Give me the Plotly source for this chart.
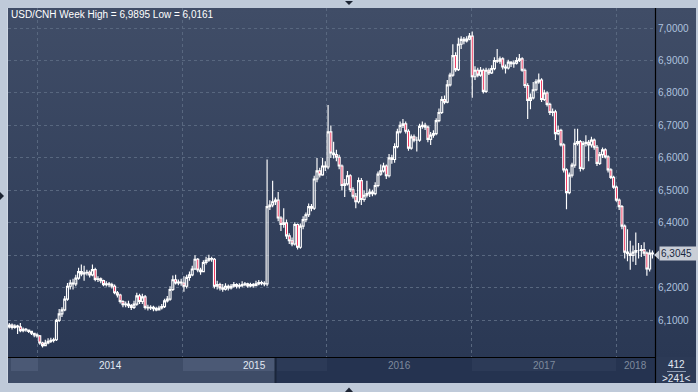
import base64
import plotly.graph_objects as go
import pandas as pd

# ---------------- data (weekly USD/CNH candles) ----------------
start_date = "2013-10-21"
first_open = 6.080

close = [
    6.085, 6.078, 6.082, 6.080, 6.068, 6.072, 6.070, 6.066, 6.060, 6.055,
    6.052, 6.030, 6.022, 6.030, 6.035, 6.038, 6.040, 6.100, 6.120, 6.132,
    6.165, 6.205, 6.215, 6.212, 6.230, 6.250, 6.243, 6.246, 6.248, 6.240,
    6.256, 6.226, 6.228, 6.222, 6.210, 6.212, 6.210, 6.205, 6.185, 6.178,
    6.158, 6.148, 6.150, 6.145, 6.140, 6.150, 6.175, 6.158, 6.172, 6.140,
    6.138, 6.140, 6.136, 6.132, 6.138, 6.142, 6.160, 6.165, 6.195, 6.225,
    6.215, 6.218, 6.215, 6.205, 6.232, 6.240, 6.258, 6.288, 6.255, 6.250,
    6.278, 6.285, 6.290, 6.288, 6.205, 6.210, 6.200, 6.196, 6.205, 6.200,
    6.205, 6.210, 6.205, 6.207, 6.210, 6.212, 6.206, 6.210, 6.207, 6.212,
    6.216, 6.214, 6.212, 6.450, 6.455, 6.465, 6.470, 6.415, 6.395, 6.400,
    6.360, 6.345, 6.335, 6.395, 6.325, 6.390, 6.410, 6.425, 6.450, 6.445,
    6.535, 6.560, 6.548, 6.575, 6.572, 6.680, 6.615, 6.610, 6.602, 6.575,
    6.515, 6.520, 6.545, 6.502, 6.482, 6.465, 6.530, 6.472, 6.485, 6.490,
    6.495, 6.490, 6.515, 6.550, 6.560, 6.575, 6.545, 6.600, 6.595, 6.635,
    6.680, 6.700, 6.705, 6.682, 6.630, 6.665, 6.655, 6.655, 6.697, 6.700,
    6.695, 6.657, 6.670, 6.675, 6.715, 6.740, 6.780, 6.772, 6.825, 6.855,
    6.915, 6.872, 6.950, 6.965, 6.960, 6.966, 6.975, 6.850, 6.870, 6.855,
    6.870, 6.805, 6.870, 6.862, 6.875, 6.900, 6.898, 6.905, 6.880, 6.877,
    6.895, 6.890, 6.892, 6.900, 6.905, 6.870, 6.823, 6.777, 6.785, 6.810,
    6.834, 6.840, 6.780, 6.800, 6.765, 6.740, 6.742, 6.675, 6.685, 6.640,
    6.563, 6.493, 6.547, 6.578, 6.645, 6.650, 6.568, 6.645, 6.648, 6.640,
    6.655, 6.633, 6.583, 6.610, 6.625, 6.603, 6.563, 6.540, 6.510, 6.470,
    6.450, 6.390, 6.310, 6.305, 6.300, 6.310, 6.315, 6.315, 6.318, 6.307,
    6.258, 6.307, 6.3045,
]

high = [
    6.092, 6.090, 6.088, 6.086, 6.092, 6.078, 6.076, 6.072, 6.068, 6.062,
    6.060, 6.055, 6.034, 6.040, 6.045, 6.046, 6.046, 6.105, 6.135, 6.140,
    6.175, 6.215, 6.225, 6.228, 6.240, 6.262, 6.272, 6.268, 6.256, 6.253,
    6.272, 6.262, 6.236, 6.232, 6.225, 6.220, 6.218, 6.216, 6.210, 6.190,
    6.182, 6.162, 6.158, 6.160, 6.150, 6.160, 6.185, 6.182, 6.182, 6.178,
    6.148, 6.146, 6.145, 6.142, 6.145, 6.150, 6.166, 6.175, 6.205, 6.238,
    6.240, 6.226, 6.228, 6.236, 6.240, 6.250, 6.268, 6.300, 6.292, 6.262,
    6.285, 6.296, 6.302, 6.296, 6.292, 6.222, 6.216, 6.212, 6.214, 6.210,
    6.212, 6.218, 6.214, 6.214, 6.220, 6.218, 6.216, 6.216, 6.215, 6.222,
    6.224, 6.222, 6.220, 6.595, 6.470, 6.530, 6.478, 6.495, 6.420, 6.445,
    6.410, 6.368, 6.355, 6.402, 6.398, 6.398, 6.420, 6.432, 6.460, 6.458,
    6.545, 6.600, 6.570, 6.600, 6.590, 6.763, 6.700, 6.650, 6.625, 6.610,
    6.580, 6.535, 6.560, 6.550, 6.510, 6.492, 6.540, 6.538, 6.500, 6.530,
    6.505, 6.502, 6.525, 6.558, 6.580, 6.585, 6.580, 6.612, 6.610, 6.645,
    6.690, 6.712, 6.720, 6.712, 6.688, 6.672, 6.672, 6.665, 6.705, 6.712,
    6.708, 6.700, 6.680, 6.685, 6.722, 6.752, 6.790, 6.792, 6.840, 6.862,
    6.950, 6.925, 6.970, 6.975, 6.972, 6.975, 6.985, 6.9895, 6.882, 6.878,
    6.880, 6.875, 6.878, 6.876, 6.885, 6.910, 6.935, 6.912, 6.910, 6.888,
    6.902, 6.898, 6.900, 6.910, 6.920, 6.910, 6.875, 6.830, 6.798, 6.834,
    6.842, 6.860, 6.845, 6.810, 6.805, 6.770, 6.752, 6.748, 6.700, 6.690,
    6.645, 6.568, 6.555, 6.585, 6.690, 6.690, 6.655, 6.652, 6.670, 6.655,
    6.665, 6.660, 6.640, 6.618, 6.632, 6.630, 6.608, 6.568, 6.545, 6.515,
    6.475, 6.455, 6.395, 6.380, 6.345, 6.330, 6.370, 6.338, 6.332, 6.340,
    6.312, 6.318, 6.315,
]

low = [
    6.075, 6.072, 6.074, 6.058, 6.063, 6.063, 6.065, 6.061, 6.055, 6.048,
    6.046, 6.025, 6.0161, 6.020, 6.026, 6.030, 6.032, 6.036, 6.095, 6.110,
    6.128, 6.160, 6.195, 6.195, 6.205, 6.225, 6.236, 6.222, 6.238, 6.232,
    6.236, 6.220, 6.218, 6.214, 6.205, 6.204, 6.202, 6.198, 6.180, 6.170,
    6.152, 6.140, 6.140, 6.138, 6.132, 6.135, 6.145, 6.150, 6.150, 6.133,
    6.130, 6.132, 6.128, 6.128, 6.130, 6.133, 6.138, 6.155, 6.160, 6.190,
    6.210, 6.208, 6.206, 6.188, 6.198, 6.222, 6.236, 6.255, 6.248, 6.240,
    6.248, 6.272, 6.280, 6.280, 6.198, 6.195, 6.192, 6.188, 6.192, 6.192,
    6.195, 6.200, 6.198, 6.198, 6.202, 6.205, 6.200, 6.202, 6.200, 6.205,
    6.208, 6.208, 6.205, 6.205, 6.440, 6.448, 6.455, 6.405, 6.375, 6.385,
    6.350, 6.335, 6.328, 6.330, 6.318, 6.320, 6.380, 6.402, 6.418, 6.436,
    6.440, 6.525, 6.540, 6.545, 6.560, 6.565, 6.600, 6.598, 6.590, 6.565,
    6.500, 6.480, 6.515, 6.495, 6.475, 6.445, 6.460, 6.455, 6.465, 6.478,
    6.480, 6.482, 6.485, 6.510, 6.545, 6.555, 6.535, 6.540, 6.582, 6.585,
    6.630, 6.675, 6.692, 6.675, 6.622, 6.625, 6.648, 6.620, 6.650, 6.690,
    6.686, 6.648, 6.640, 6.662, 6.670, 6.710, 6.735, 6.765, 6.768, 6.820,
    6.850, 6.865, 6.868, 6.935, 6.950, 6.955, 6.962, 6.785, 6.840, 6.848,
    6.850, 6.798, 6.800, 6.855, 6.858, 6.870, 6.892, 6.890, 6.872, 6.860,
    6.872, 6.880, 6.878, 6.888, 6.895, 6.865, 6.815, 6.720, 6.750, 6.780,
    6.805, 6.828, 6.772, 6.775, 6.758, 6.732, 6.728, 6.655, 6.670, 6.635,
    6.555, 6.442, 6.488, 6.540, 6.570, 6.638, 6.558, 6.562, 6.635, 6.590,
    6.632, 6.625, 6.575, 6.578, 6.600, 6.598, 6.555, 6.535, 6.505, 6.465,
    6.440, 6.380, 6.290, 6.282, 6.256, 6.280, 6.270, 6.290, 6.295, 6.298,
    6.237, 6.250, 6.290,
]

open_ = [first_open] + close[:-1]
dates = pd.date_range(start_date, periods=len(close), freq="7D")

y_ticks = [6.1, 6.2, 6.3, 6.4, 6.5, 6.6, 6.7, 6.8, 6.9, 7.0]
year_labels = ["2014", "2015", "2016", "2017", "2018"]
x_range = ["2013-10-17 19:00", "2018-04-08 12:00"]
y_range = [5.987, 7.0616]
pair = "USD/CNH"
bar_total = "412"
bar_visible = ">241<"

# ---------------- layout geometry (pixels) ----------------
W, H = 698, 392
PL, PR, PT, PB = 8, 655, 8, 357
FONT = "Liberation Sans"
FS = 10


def xp(px):
    return (px - PL) / (PR - PL)


def yp(py):
    return (PB - py) / (PB - PT)


def fmt(v):
    return f"{v:.4f}".replace(".", ",")


shapes = []


def rect(x0, y0, x1, y1, color, layer="below"):
    shapes.append(dict(type="rect", xref="paper", yref="paper",
                       x0=xp(x0), x1=xp(x1), y0=yp(y1), y1=yp(y0),
                       fillcolor=color, line=dict(width=0), layer=layer))


def line(x0, y0, x1, y1, color, width=1, layer="above"):
    shapes.append(dict(type="line", xref="paper", yref="paper",
                       x0=xp(x0), x1=xp(x1), y0=yp(y0), y1=yp(y1),
                       line=dict(color=color, width=width), layer=layer))


def tri(pts, color, layer="above"):
    path = "M " + " L ".join(f"{xp(a)},{yp(b)}" for a, b in pts) + " Z"
    shapes.append(dict(type="path", xref="paper", yref="paper", path=path,
                       fillcolor=color, line=dict(width=0), layer=layer))


# smooth vertical gradient for the panel, as an inline svg image
svg = ('<svg xmlns="http://www.w3.org/2000/svg" width="100" height="100" '
       'preserveAspectRatio="none"><defs><linearGradient id="g" x1="0" y1="0" '
       'x2="0" y2="1"><stop offset="0" stop-color="#404d67"/>'
       '<stop offset="1" stop-color="#2a3854"/></linearGradient></defs>'
       '<rect width="100" height="100" fill="url(#g)"/></svg>')
svg_uri = "data:image/svg+xml;base64," + base64.b64encode(svg.encode()).decode()
images = [dict(source=svg_uri, xref="paper", yref="paper",
               x=xp(7), y=yp(8), sizex=xp(696) - xp(7), sizey=yp(8) - yp(357),
               sizing="stretch", xanchor="left", yanchor="top", layer="below")]

# bottom navigator band
rect(7, 357, 275, 383, "#3e4c67")
rect(275, 357, 656, 383, "#253350")
rect(11, 358, 38, 371, "#4b5975")
rect(183, 358, 275, 371, "#4b5975")
rect(277, 358, 327, 371, "#2c3a57")
rect(472, 358, 616, 371, "#2c3a57")
rect(656, 357, 696, 383, "#2c3a56")
line(275.5, 358, 275.5, 383, "#1b263b", 2)
line(667, 371.5, 686, 371.5, "#8d9bb2", 1)

# frame lines
line(655.5, 8, 655.5, 383, "#000000", 1.2)
line(7, 357.5, 655.5, 357.5, "#000000", 1.2)
line(7.5, 8, 7.5, 383, "#cfd7e3", 1)

# small frame triangles
tri([(345, 1), (353, 1), (349, 5)], "#1c2433")
tri([(345, 392), (353, 392), (349, 387.5)], "#1c2433")
tri([(0, 192), (0, 200), (4, 196)], "#1c2433")

# price marker notch
last_price = close[-1]
tri([(654, 255), (659, 250.5), (659, 259.5)], "#c9ced7")

fig = go.Figure()
fig.add_trace(go.Candlestick(
    x=dates, open=open_, high=high, low=low, close=close,
    increasing=dict(line=dict(color="#ffffff", width=1.15), fillcolor="rgba(0,0,0,0)"),
    decreasing=dict(line=dict(color="#ffffff", width=1.15), fillcolor="#f0103f"),
    whiskerwidth=0, showlegend=False, hoverinfo="skip",
))

annotations = []
title_txt = f"{pair} Week High = {fmt(max(high))} Low = {fmt(min(low))}"
annotations.append(dict(xref="paper", yref="paper", x=xp(9), y=yp(15),
                        xanchor="left", yanchor="middle", showarrow=False,
                        text=title_txt,
                        font=dict(family=FONT, size=FS, color="#ffffff")))

# year labels centred in each visible year span
rs, re_ = pd.Timestamp(x_range[0]), pd.Timestamp(x_range[1])
for lab in year_labels:
    y0 = max(pd.Timestamp(f"{lab}-01-01"), rs)
    y1 = min(pd.Timestamp(f"{int(lab) + 1}-01-01"), re_)
    mid = y0 + (y1 - y0) / 2
    col = "#e2e9f3" if int(lab) <= 2015 else "#7e8a9d"
    annotations.append(dict(xref="x", yref="paper", x=mid, y=yp(365.5),
                            xanchor="center", yanchor="middle", showarrow=False,
                            text=lab,
                            font=dict(family=FONT, size=FS, color=col)))

annotations.append(dict(xref="paper", yref="paper", x=xp(676.5), y=yp(364.5),
                        xanchor="center", yanchor="middle", showarrow=False,
                        text=bar_total,
                        font=dict(family=FONT, size=FS, color="#e2e9f3")))
annotations.append(dict(xref="paper", yref="paper", x=xp(676.5), y=yp(378),
                        xanchor="center", yanchor="middle", showarrow=False,
                        text=bar_visible,
                        font=dict(family=FONT, size=FS, color="#e2e9f3")))

annotations.append(dict(xref="paper", yref="y", x=xp(658.5), y=last_price,
                        xanchor="left", yanchor="middle", showarrow=False,
                        text=fmt(last_price), bgcolor="#c9ced7", borderpad=1,
                        width=36, align="left",
                        font=dict(family=FONT, size=FS, color="#1a2740")))

# the price marker covers the tick label it sits on
tick_text = [("" if abs(v - last_price) < 0.02 else fmt(v)) for v in y_ticks]

fig.update_layout(
    width=W, height=H,
    margin=dict(l=PL, r=W - PR, t=PT, b=H - PB, pad=0),
    paper_bgcolor="#bfcad9",
    plot_bgcolor="rgba(0,0,0,0)",
    boxgap=0.0,
    shapes=shapes,
    images=images,
    annotations=annotations,
    showlegend=False,
    xaxis=dict(type="date", range=x_range, rangeslider=dict(visible=False),
               showgrid=True, gridcolor="#58677f", griddash="3px,3px", gridwidth=1,
               tick0="2014-01-01", dtick="M12", showticklabels=False,
               ticks="", zeroline=False, showline=False, fixedrange=True),
    yaxis=dict(side="right", range=y_range, tickvals=y_ticks, ticktext=tick_text,
               showgrid=True, gridcolor="#58677f", griddash="3px,3px", gridwidth=1,
               ticks="", zeroline=False, showline=False, fixedrange=True,
               automargin=False, ticklabelstandoff=2,
               tickfont=dict(family=FONT, size=FS, color="#aec2de")),
)

fig.write_html("out.html", config=dict(displayModeBar=False, staticPlot=True),
               post_script="document.body.style.margin='0';document.body.style.overflow='hidden';")
